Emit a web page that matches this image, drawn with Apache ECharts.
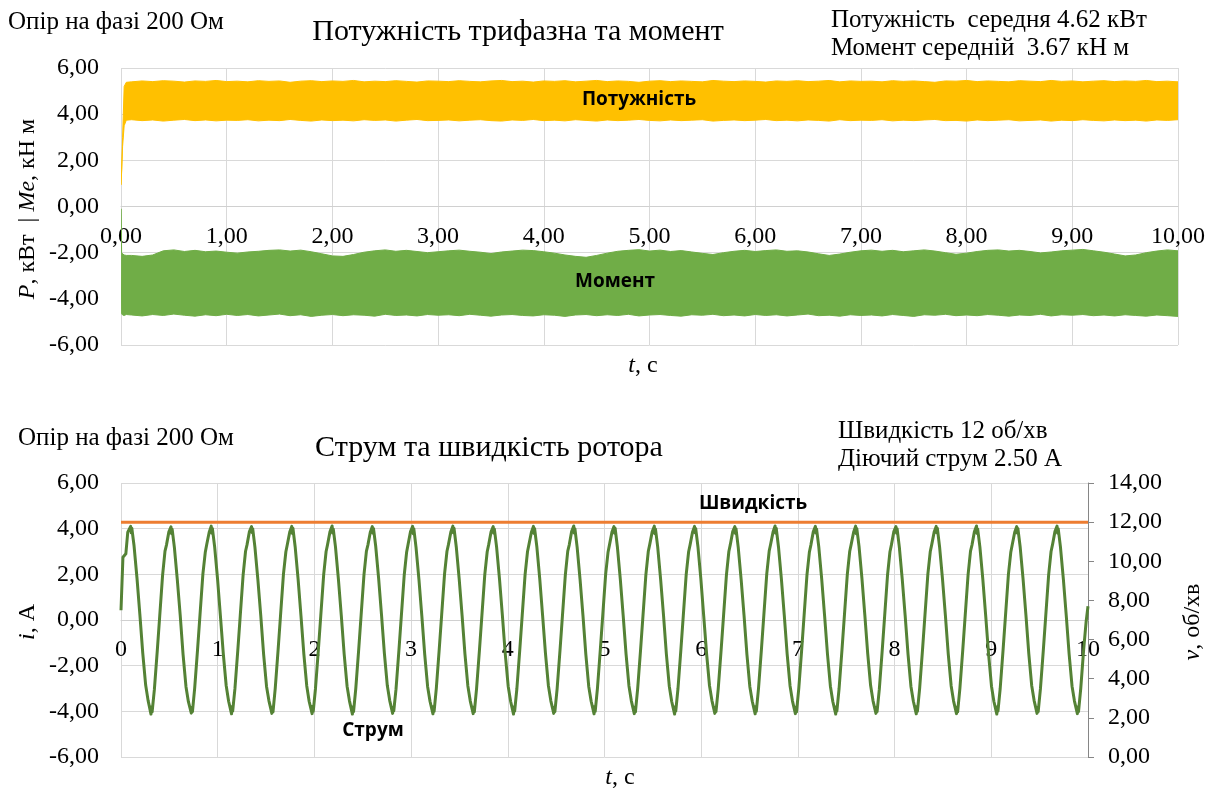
<!DOCTYPE html>
<html>
<head>
<meta charset="utf-8">
<script src="https://cdn.jsdelivr.net/npm/echarts@6/dist/echarts.min.js"></script>
<style>
  html, body { margin: 0; padding: 0; background: #fff; }
  #chart { width: 1215px; height: 792px; }
</style>
</head>
<body>
<div id="chart"></div>
<script>
// ---- Power & torque: envelope of the fast ripple band (time, s) ----
const bandTime = [0, 0.006, 0.015, 0.03, 0.05,
  0.1, 0.2, 0.3, 0.4, 0.5, 0.6, 0.7, 0.8, 0.9, 1.0,
  1.1, 1.2, 1.3, 1.4, 1.5, 1.6, 1.7, 1.8, 1.9, 2.0,
  2.1, 2.2, 2.3, 2.4, 2.5, 2.6, 2.7, 2.8, 2.9, 3.0,
  3.1, 3.2, 3.3, 3.4, 3.5, 3.6, 3.7, 3.8, 3.9, 4.0,
  4.1, 4.2, 4.3, 4.4, 4.5, 4.6, 4.7, 4.8, 4.9, 5.0,
  5.1, 5.2, 5.3, 5.4, 5.5, 5.6, 5.7, 5.8, 5.9, 6.0,
  6.1, 6.2, 6.3, 6.4, 6.5, 6.6, 6.7, 6.8, 6.9, 7.0,
  7.1, 7.2, 7.3, 7.4, 7.5, 7.6, 7.7, 7.8, 7.9, 8.0,
  8.1, 8.2, 8.3, 8.4, 8.5, 8.6, 8.7, 8.8, 8.9, 9.0,
  9.1, 9.2, 9.3, 9.4, 9.5, 9.6, 9.7, 9.8, 9.9, 10.0];

// Three-phase power, kW: upper / lower edge of the ripple
const powerHigh = [0.94, 1.6, 3.0, 5.2, 5.38,
  5.40, 5.44, 5.41, 5.45, 5.43, 5.39, 5.44, 5.42, 5.46, 5.41,
  5.43, 5.40, 5.45, 5.42, 5.44, 5.38, 5.43, 5.45, 5.41, 5.44,
  5.42, 5.46, 5.40, 5.43, 5.41, 5.45, 5.42, 5.39, 5.44, 5.43,
  5.41, 5.45, 5.42, 5.40, 5.44, 5.46, 5.41, 5.43, 5.39, 5.44,
  5.42, 5.45, 5.40, 5.43, 5.46, 5.41, 5.44, 5.42, 5.38, 5.43,
  5.45, 5.41, 5.44, 5.42, 5.40, 5.46, 5.43, 5.41, 5.44, 5.42,
  5.39, 5.44, 5.42, 5.45, 5.41, 5.43, 5.46, 5.40, 5.44, 5.42,
  5.43, 5.40, 5.45, 5.42, 5.44, 5.41, 5.38, 5.44, 5.43, 5.46,
  5.41, 5.44, 5.42, 5.40, 5.45, 5.43, 5.41, 5.46, 5.42, 5.44,
  5.40, 5.43, 5.45, 5.41, 5.44, 5.42, 5.46, 5.41, 5.43, 5.40];
const powerLow = [0.94, 1.5, 2.6, 3.5, 3.74,
  3.76, 3.72, 3.75, 3.70, 3.74, 3.77, 3.72, 3.75, 3.71, 3.74,
  3.73, 3.76, 3.71, 3.74, 3.72, 3.77, 3.73, 3.70, 3.75, 3.72,
  3.74, 3.71, 3.76, 3.73, 3.75, 3.70, 3.74, 3.77, 3.72, 3.73,
  3.75, 3.71, 3.74, 3.76, 3.72, 3.70, 3.75, 3.73, 3.77, 3.72,
  3.74, 3.71, 3.76, 3.73, 3.70, 3.75, 3.72, 3.74, 3.77, 3.73,
  3.71, 3.75, 3.72, 3.74, 3.76, 3.70, 3.73, 3.75, 3.72, 3.74,
  3.77, 3.72, 3.74, 3.71, 3.75, 3.73, 3.70, 3.76, 3.72, 3.74,
  3.73, 3.76, 3.71, 3.74, 3.72, 3.75, 3.77, 3.72, 3.73, 3.70,
  3.75, 3.72, 3.74, 3.76, 3.71, 3.73, 3.75, 3.70, 3.74, 3.72,
  3.76, 3.73, 3.71, 3.75, 3.72, 3.74, 3.70, 3.75, 3.73, 3.76];

// Electromagnetic torque, kN·m: upper / lower edge of the ripple
const torqueHigh = [-0.1, -2.0, -2.05, -2.1, -2.12,
  -2.12, -2.16, -2.10, -1.92, -1.88, -1.95, -1.90, -1.96, -1.93, -1.98,
  -2.02, -1.97, -1.94, -1.90, -1.88, -1.93, -1.89, -1.96, -2.05, -2.14,
  -2.16, -2.08, -1.98, -1.92, -1.88, -1.94, -1.90, -1.95, -2.00, -1.96,
  -1.92, -1.89, -1.94, -1.98, -2.04, -1.97, -1.93, -1.89, -1.91, -1.96,
  -2.02, -2.10, -2.16, -2.20, -2.12, -2.02, -1.94, -1.90, -1.87, -1.93,
  -1.89, -1.95, -1.91, -1.97, -2.03, -2.08, -2.00, -1.94, -1.90, -1.95,
  -1.91, -1.88, -1.94, -1.92, -1.97, -2.05, -2.12, -2.06, -1.98, -1.92,
  -1.89, -1.94, -1.90, -1.96, -1.92, -1.88, -1.93, -2.00, -2.07, -2.02,
  -1.95, -1.90, -1.88, -1.93, -1.90, -1.95, -2.01, -1.97, -1.92, -1.89,
  -1.86, -1.92, -1.98, -2.06, -2.14, -2.10, -2.00, -1.93, -1.88, -1.92];
const torqueLow = [-0.1, -4.65, -4.70, -4.72, -4.68,
  -4.70, -4.74, -4.68, -4.72, -4.66, -4.71, -4.75, -4.69, -4.73, -4.67,
  -4.72, -4.68, -4.74, -4.70, -4.66, -4.73, -4.69, -4.76, -4.71, -4.68,
  -4.73, -4.69, -4.71, -4.75, -4.67, -4.72, -4.70, -4.74, -4.68, -4.71,
  -4.69, -4.73, -4.67, -4.71, -4.75, -4.70, -4.68, -4.72, -4.74, -4.69,
  -4.71, -4.76, -4.70, -4.68, -4.73, -4.69, -4.72, -4.67, -4.74, -4.70,
  -4.68, -4.72, -4.75, -4.69, -4.71, -4.67, -4.73, -4.70, -4.74, -4.68,
  -4.72, -4.69, -4.74, -4.70, -4.66, -4.73, -4.71, -4.75, -4.69, -4.72,
  -4.70, -4.74, -4.68, -4.72, -4.76, -4.69, -4.71, -4.67, -4.73, -4.70,
  -4.73, -4.68, -4.71, -4.75, -4.70, -4.72, -4.67, -4.74, -4.69, -4.71,
  -4.68, -4.73, -4.70, -4.74, -4.69, -4.72, -4.75, -4.70, -4.73, -4.76];

// ---- Rotor current, A: [t, i] ----
const current = [
  [0.000,0.43],[0.020,2.75],[0.050,2.90],[0.070,3.85],
  [0.100,4.10],[0.106,3.82],[0.112,4.02],[0.135,3.25],[0.165,1.85],[0.195,0.25],[0.225,-1.45],[0.255,-2.85],[0.280,-3.52],[0.310,-4.12],[0.316,-3.80],[0.322,-4.02],[0.345,-3.05],[0.375,-1.35],[0.400,0.15],[0.430,1.95],[0.455,3.02],[0.470,3.28],[0.495,3.86],
  [0.517,4.08],[0.523,3.78],[0.529,3.98],[0.552,3.18],[0.582,1.78],[0.612,0.22],[0.642,-1.52],[0.672,-2.92],[0.697,-3.58],[0.727,-4.08],[0.733,-3.82],[0.739,-4.01],[0.762,-2.98],[0.792,-1.28],[0.817,0.22],[0.847,2.02],[0.872,2.98],[0.887,3.32],[0.912,3.84],
  [0.933,4.11],[0.939,3.80],[0.945,4.01],[0.968,3.22],[0.998,1.82],[1.028,0.18],[1.058,-1.48],[1.088,-2.88],[1.113,-3.56],[1.143,-4.11],[1.149,-3.79],[1.155,-3.99],[1.178,-3.02],[1.208,-1.32],[1.233,0.18],[1.263,1.98],[1.288,3.01],[1.303,3.29],[1.328,3.87],
  [1.350,4.09],[1.356,3.83],[1.362,4.00],[1.385,3.19],[1.415,1.79],[1.445,0.21],[1.475,-1.51],[1.505,-2.91],[1.530,-3.54],[1.560,-4.09],[1.566,-3.81],[1.572,-4.02],[1.595,-2.99],[1.625,-1.29],[1.650,0.21],[1.680,2.01],[1.705,2.99],[1.720,3.31],[1.745,3.85],
  [1.766,4.10],[1.772,3.79],[1.778,4.02],[1.801,3.21],[1.831,1.81],[1.861,0.19],[1.891,-1.49],[1.921,-2.89],[1.946,-3.57],[1.976,-4.10],[1.982,-3.78],[1.988,-4.00],[2.011,-3.01],[2.041,-1.31],[2.066,0.19],[2.096,1.99],[2.121,3.00],[2.136,3.30],[2.161,3.86],
  [2.183,4.12],[2.189,3.81],[2.195,3.99],[2.218,3.20],[2.248,1.80],[2.278,0.20],[2.308,-1.50],[2.338,-2.90],[2.363,-3.55],[2.393,-4.12],[2.399,-3.80],[2.405,-4.01],[2.428,-3.00],[2.458,-1.30],[2.483,0.20],[2.513,2.00],[2.538,3.02],[2.553,3.28],[2.578,3.84],
  [2.599,4.09],[2.605,3.80],[2.611,4.01],[2.634,3.23],[2.664,1.83],[2.694,0.22],[2.724,-1.47],[2.754,-2.87],[2.779,-3.53],[2.809,-4.09],[2.815,-3.82],[2.821,-3.98],[2.844,-3.03],[2.874,-1.33],[2.899,0.17],[2.929,1.97],[2.954,2.98],[2.969,3.32],[2.994,3.87],
  [3.016,4.10],[3.022,3.78],[3.028,4.00],[3.051,3.18],[3.081,1.78],[3.111,0.18],[3.141,-1.52],[3.171,-2.92],[3.196,-3.57],[3.226,-4.11],[3.232,-3.79],[3.238,-4.00],[3.261,-2.98],[3.291,-1.28],[3.316,0.22],[3.346,2.02],[3.371,3.01],[3.386,3.30],[3.411,3.85],
  [3.432,4.11],[3.438,3.82],[3.444,4.02],[3.467,3.21],[3.497,1.81],[3.527,0.21],[3.557,-1.49],[3.587,-2.89],[3.612,-3.55],[3.642,-4.10],[3.648,-3.81],[3.654,-4.02],[3.677,-3.01],[3.707,-1.31],[3.732,0.19],[3.762,1.99],[3.787,2.99],[3.802,3.29],[3.827,3.86],
  [3.849,4.09],[3.855,3.80],[3.861,3.99],[3.884,3.20],[3.914,1.80],[3.944,0.20],[3.974,-1.50],[4.004,-2.90],[4.029,-3.56],[4.059,-4.12],[4.065,-3.80],[4.071,-3.99],[4.094,-3.00],[4.124,-1.30],[4.149,0.20],[4.179,2.00],[4.204,3.00],[4.219,3.31],[4.244,3.84],
  [4.265,4.10],[4.271,3.79],[4.277,4.01],[4.300,3.22],[4.330,1.82],[4.360,0.19],[4.390,-1.48],[4.420,-2.88],[4.445,-3.54],[4.475,-4.09],[4.481,-3.82],[4.487,-4.01],[4.510,-3.02],[4.540,-1.32],[4.565,0.18],[4.595,1.98],[4.620,3.02],[4.635,3.28],[4.660,3.87],
  [4.682,4.12],[4.688,3.81],[4.694,4.00],[4.717,3.19],[4.747,1.79],[4.777,0.21],[4.807,-1.51],[4.837,-2.91],[4.862,-3.56],[4.892,-4.11],[4.898,-3.79],[4.904,-4.00],[4.927,-2.99],[4.957,-1.29],[4.982,0.21],[5.012,2.01],[5.037,2.98],[5.052,3.30],[5.077,3.85],
  [5.098,4.09],[5.104,3.80],[5.110,4.02],[5.133,3.21],[5.163,1.81],[5.193,0.20],[5.223,-1.49],[5.253,-2.89],[5.278,-3.55],[5.308,-4.10],[5.314,-3.81],[5.320,-4.02],[5.343,-3.01],[5.373,-1.31],[5.398,0.19],[5.428,1.99],[5.453,3.01],[5.468,3.31],[5.493,3.86],
  [5.515,4.11],[5.521,3.78],[5.527,3.99],[5.550,3.20],[5.580,1.80],[5.610,0.22],[5.640,-1.50],[5.670,-2.90],[5.695,-3.57],[5.725,-4.12],[5.731,-3.80],[5.737,-3.99],[5.760,-3.00],[5.790,-1.30],[5.815,0.20],[5.845,2.00],[5.870,2.99],[5.885,3.29],[5.910,3.84],
  [5.931,4.10],[5.937,3.82],[5.943,4.01],[5.966,3.22],[5.996,1.82],[6.026,0.18],[6.056,-1.48],[6.086,-2.88],[6.111,-3.53],[6.141,-4.09],[6.147,-3.82],[6.153,-4.01],[6.176,-3.02],[6.206,-1.32],[6.231,0.18],[6.261,1.98],[6.286,3.00],[6.301,3.30],[6.326,3.87],
  [6.348,4.09],[6.354,3.79],[6.360,4.00],[6.383,3.18],[6.413,1.78],[6.443,0.20],[6.473,-1.52],[6.503,-2.92],[6.528,-3.56],[6.558,-4.11],[6.564,-3.79],[6.570,-4.00],[6.593,-2.98],[6.623,-1.28],[6.648,0.22],[6.678,2.02],[6.703,3.02],[6.718,3.32],[6.743,3.85],
  [6.764,4.12],[6.770,3.80],[6.776,4.02],[6.799,3.21],[6.829,1.81],[6.859,0.21],[6.889,-1.49],[6.919,-2.89],[6.944,-3.55],[6.974,-4.10],[6.980,-3.81],[6.986,-4.02],[7.009,-3.01],[7.039,-1.31],[7.064,0.19],[7.094,1.99],[7.119,2.98],[7.134,3.28],[7.159,3.86],
  [7.181,4.10],[7.187,3.81],[7.193,3.99],[7.216,3.20],[7.246,1.80],[7.276,0.19],[7.306,-1.50],[7.336,-2.90],[7.361,-3.57],[7.391,-4.12],[7.397,-3.80],[7.403,-3.99],[7.426,-3.00],[7.456,-1.30],[7.481,0.20],[7.511,2.00],[7.536,3.01],[7.551,3.31],[7.576,3.84],
  [7.597,4.11],[7.603,3.78],[7.609,4.01],[7.632,3.23],[7.662,1.83],[7.692,0.22],[7.722,-1.47],[7.752,-2.87],[7.777,-3.54],[7.807,-4.09],[7.813,-3.82],[7.819,-4.01],[7.842,-3.03],[7.872,-1.33],[7.897,0.17],[7.927,1.97],[7.952,2.99],[7.967,3.29],[7.992,3.87],
  [8.014,4.09],[8.020,3.80],[8.026,4.00],[8.049,3.19],[8.079,1.79],[8.109,0.20],[8.139,-1.51],[8.169,-2.91],[8.194,-3.56],[8.224,-4.11],[8.230,-3.79],[8.236,-4.00],[8.259,-2.99],[8.289,-1.29],[8.314,0.21],[8.344,2.01],[8.369,3.00],[8.384,3.30],[8.409,3.85],
  [8.430,4.10],[8.436,3.82],[8.442,4.02],[8.465,3.21],[8.495,1.81],[8.525,0.21],[8.555,-1.49],[8.585,-2.89],[8.610,-3.55],[8.640,-4.10],[8.646,-3.81],[8.652,-4.02],[8.675,-3.01],[8.705,-1.31],[8.730,0.19],[8.760,1.99],[8.785,3.02],[8.800,3.28],[8.825,3.86],
  [8.847,4.12],[8.853,3.79],[8.859,3.99],[8.882,3.20],[8.912,1.80],[8.942,0.19],[8.972,-1.50],[9.002,-2.90],[9.027,-3.57],[9.057,-4.12],[9.063,-3.80],[9.069,-3.99],[9.092,-3.00],[9.122,-1.30],[9.147,0.20],[9.177,2.00],[9.202,2.98],[9.217,3.31],[9.242,3.84],
  [9.263,4.09],[9.269,3.81],[9.275,4.01],[9.298,3.22],[9.328,1.82],[9.358,0.22],[9.388,-1.48],[9.418,-2.88],[9.443,-3.53],[9.473,-4.09],[9.479,-3.82],[9.485,-4.01],[9.508,-3.02],[9.538,-1.32],[9.563,0.18],[9.593,1.98],[9.618,3.00],[9.633,3.30],[9.658,3.87],
  [9.680,4.11],[9.686,3.80],[9.692,4.00],[9.715,3.20],[9.745,1.80],[9.775,0.20],[9.805,-1.50],[9.835,-2.90],[9.860,-3.55],[9.890,-4.10],[9.896,-3.80],[9.902,-4.01],[9.925,-3.00],[9.955,-1.30],[9.980,-0.10],[10.000,0.60]
];

// Rotor speed, rpm: [t, v]
const speed = [[0, 12], [10, 12]];

// Texts
const noteResistance = 'Опір на фазі 200 Ом';
const titleTop = 'Потужність трифазна та момент';
const titleBottom = 'Струм та швидкість ротора';
const notesTop = ['Потужність  середня 4.62 кВт', 'Момент середній  3.67 кН м'];
const notesBottom = ['Швидкість 12 об/хв', 'Діючий струм 2.50 А'];
const seriesNames = ['Потужність', 'Момент', 'Швидкість', 'Струм'];

// ---- helpers ----
const comma2 = v => v.toFixed(2).replace('.', ',');

const SERIF = 'Liberation Serif';
const SANS = 'Open Sans';
const GRID = '#d9d9d9';
const TOP_H = 277, BOT_H = 274;

const tickText = { fontFamily: SERIF, fontSize: 24, color: '#000' };

function text(x, y, str, size, opts) {
  opts = opts || {};
  return {
    type: 'text', x: x, y: y, rotation: opts.rotation || 0, z: 100,
    style: {
      text: str, fill: '#000',
      font: (opts.bold ? 'bold ' : '') + size + 'px "' + (opts.family || SERIF) + '"',
      textAlign: opts.align || 'left', textVerticalAlign: 'middle',
      rich: opts.rich
    }
  };
}
const richSerif = size => ({
  i: { fontFamily: SERIF, fontSize: size, fontStyle: 'italic', fill: '#000' },
  n: { fontFamily: SERIF, fontSize: size, fill: '#000' }
});

// Filled ripple band between a lower and an upper envelope
function bandSeries(name, lo, hi, color) {
  return {
    name: name, type: 'custom', xAxisIndex: 0, yAxisIndex: 0, silent: true, clip: true,
    data: bandTime.map((t, k) => [t, lo[k], hi[k]]),
    encode: { x: 0, y: [1, 2] },
    renderItem: function (params, api) {
      if (params.dataIndexInside !== 0) return null;
      const upper = [], lower = [];
      for (let k = 0; k < params.dataInsideLength; k++) {
        const t = api.value(0, k);
        upper.push(api.coord([t, api.value(2, k)]));
        lower.push(api.coord([t, api.value(1, k)]));
      }
      return {
        type: 'polygon',
        shape: { points: upper.concat(lower.reverse()) },
        style: { fill: color, stroke: color, lineWidth: 1 }
      };
    }
  };
}

const chart = echarts.init(document.getElementById('chart'), null, { renderer: 'canvas' });

chart.setOption({
  animation: false,
  backgroundColor: '#fff',
  grid: [
    { left: 121, top: 68, width: 1057, height: TOP_H },
    { left: 121, top: 483, width: 967, height: BOT_H }
  ],
  xAxis: [
    {
      gridIndex: 0, type: 'value', min: 0, max: 10, interval: 1,
      offset: -TOP_H / 2,
      axisLine: { onZero: false, lineStyle: { color: '#d0d0d0', width: 1 } },
      axisTick: { show: false },
      axisLabel: Object.assign({ formatter: comma2, margin: 18 }, tickText),
      splitLine: { show: true, lineStyle: { color: GRID, width: 1 } }
    },
    {
      gridIndex: 1, type: 'value', min: 0, max: 10, interval: 1,
      offset: -BOT_H / 2,
      axisLine: { onZero: false, lineStyle: { color: '#d0d0d0', width: 1 } },
      axisTick: { show: false },
      axisLabel: Object.assign({ formatter: v => String(v), margin: 18 }, tickText),
      splitLine: { show: true, lineStyle: { color: GRID, width: 1 } }
    }
  ],
  yAxis: [
    {
      gridIndex: 0, type: 'value', min: -6, max: 6, interval: 2,
      axisLine: { show: false, onZero: false }, axisTick: { show: false },
      axisLabel: Object.assign({ formatter: comma2, margin: 22 }, tickText),
      splitLine: { show: true, lineStyle: { color: GRID, width: 1 } }
    },
    {
      gridIndex: 1, type: 'value', min: -6, max: 6, interval: 2,
      axisLine: { show: false, onZero: false }, axisTick: { show: false },
      axisLabel: Object.assign({ formatter: comma2, margin: 22 }, tickText),
      splitLine: { show: true, lineStyle: { color: GRID, width: 1 } }
    },
    {
      gridIndex: 1, type: 'value', position: 'right', min: 0, max: 14, interval: 2,
      axisLine: { show: true, onZero: false, lineStyle: { color: '#868686', width: 1 } },
      axisTick: { show: true, inside: false, length: 6, lineStyle: { color: '#868686' } },
      axisLabel: Object.assign({ formatter: comma2, margin: 20 }, tickText),
      splitLine: { show: false }
    }
  ],
  series: [
    bandSeries(seriesNames[0], powerLow, powerHigh, '#FFC000'),
    bandSeries(seriesNames[1], torqueLow, torqueHigh, '#70AD47'),
    { name: seriesNames[3], type: 'line', xAxisIndex: 1, yAxisIndex: 1,
      data: current, symbol: 'none', silent: true,
      lineStyle: { color: '#548235', width: 3, join: 'round' } },
    { name: seriesNames[2], type: 'line', xAxisIndex: 1, yAxisIndex: 2,
      data: speed, symbol: 'none', silent: true, z: 3,
      lineStyle: { color: '#ED7D31', width: 3 } }
  ],
  graphic: [
    // top panel
    text(8, 22, noteResistance, 25),
    text(518, 32, titleTop, 30, { align: 'center' }),
    text(831, 20, notesTop[0], 25),
    text(831, 48, notesTop[1], 25),
    text(643, 366, '{i|t}{n|, с}', 24, { align: 'center', rich: richSerif(24) }),
    text(28, 209, '{i|P}{n|, кВт  | }{i|Me}{n|, кН м}', 24, { align: 'center', rotation: Math.PI / 2, rich: richSerif(24) }),
    text(639, 100, seriesNames[0], 19, { align: 'center', bold: true, family: SANS }),
    text(615, 282, seriesNames[1], 19, { align: 'center', bold: true, family: SANS }),
    // bottom panel
    text(18, 438, noteResistance, 25),
    text(489, 448, titleBottom, 30, { align: 'center' }),
    text(838, 431, notesBottom[0], 25),
    text(838, 459, notesBottom[1], 25),
    text(620, 778, '{i|t}{n|, с}', 24, { align: 'center', rich: richSerif(24) }),
    text(28, 622, '{i|i}{n|, А}', 24, { align: 'center', rotation: Math.PI / 2, rich: richSerif(24) }),
    text(1193, 622, '{i|v}{n|, об/хв}', 24, { align: 'center', rotation: Math.PI / 2, rich: richSerif(24) }),
    text(753, 504, seriesNames[2], 19, { align: 'center', bold: true, family: SANS }),
    text(373, 731, seriesNames[3], 19, { align: 'center', bold: true, family: SANS })
  ]
});
</script>
</body>
</html>
